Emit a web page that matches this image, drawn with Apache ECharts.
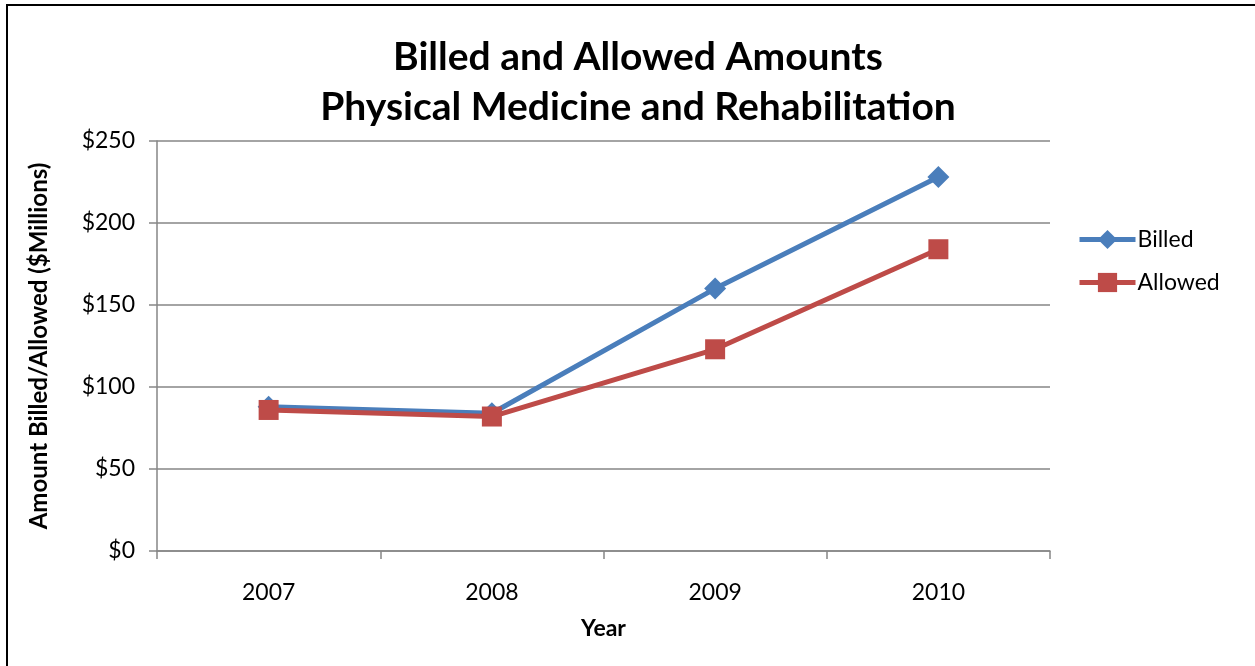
<!DOCTYPE html>
<html><head><meta charset="utf-8">
<script src="https://cdn.jsdelivr.net/npm/echarts@6/dist/echarts.min.js"></script>
<style>html,body{margin:0;padding:0;background:#fff}#c{width:1255px;height:666px}</style>
</head><body><div id="c"></div>
<script>
var categories = ['2007','2008','2009','2010'];
var billed = [88, 84, 160, 228];
var allowed = [86, 82, 123, 184];
var yTicks = [0, 50, 100, 150, 200, 250];
var FONT = 'Lato';
var chart = echarts.init(document.getElementById('c'));
chart.setOption({
  animation: false,
  backgroundColor: '#fff',
  textStyle: {fontFamily: FONT},
  title: {
    text: 'Billed and Allowed Amounts\nPhysical Medicine and Rehabilitation',
    left: 633, top: 27, textAlign: 'center',
    textStyle: {fontFamily: FONT, fontSize: 39, fontWeight: 'bold', color: '#000', lineHeight: 50}
  },
  graphic: [{type: 'rect', shape: {x: 7, y: 5, width: 1260, height: 680}, style: {fill: 'none', stroke: '#000', lineWidth: 2}, silent: true}],
  legend: {
    orient: 'vertical', left: 1072, top: 223, itemGap: 20, itemWidth: 56, itemHeight: 24,
    lineStyle: {width: 5},
    textStyle: {fontFamily: FONT, fontSize: 23, color: '#000', padding: [0,0,0,-3]},
    data: ['Billed', 'Allowed']
  },
  grid: {left: 157, right: 205, top: 141, bottom: 115, containLabel: false},
  xAxis: {
    type: 'category', data: categories, boundaryGap: true,
    name: 'Year', nameLocation: 'middle', nameGap: 66,
    nameTextStyle: {fontFamily: FONT, fontSize: 23, fontWeight: 'bold', color: '#000'},
    axisLine: {lineStyle: {color: '#868686', width: 1.5}},
    axisTick: {show: true, length: 8, lineStyle: {color: '#868686', width: 1.5}},
    axisLabel: {fontFamily: FONT, fontSize: 23, color: '#000', margin: 30}
  },
  yAxis: {
    type: 'value', min: 0, max: 250, interval: 50,
    name: 'Amount Billed/Allowed ($Millions)', nameLocation: 'middle', nameGap: 106, nameRotate: 90,
    nameTextStyle: {fontFamily: FONT, fontSize: 24, fontWeight: 'bold', color: '#000'},
    axisLine: {show: true, lineStyle: {color: '#868686', width: 1.5}},
    axisTick: {show: true, length: 8, lineStyle: {color: '#868686', width: 1.5}},
    axisLabel: {fontFamily: FONT, fontSize: 23, color: '#000', margin: 22,
      formatter: function(v){ return yTicks.indexOf(v) >= 0 ? '$' + v : ''; }},
    splitLine: {lineStyle: {color: '#868686', width: 1.5}}
  },
  series: [
    {name: 'Billed', type: 'line', data: billed, symbol: 'diamond', symbolSize: 22,
     lineStyle: {color: '#4a7ebb', width: 5}, itemStyle: {color: '#4a7ebb'}, z: 2},
    {name: 'Allowed', type: 'line', data: allowed, symbol: 'rect', symbolSize: 20,
     lineStyle: {color: '#be4b48', width: 5}, itemStyle: {color: '#be4b48'}, z: 3}
  ]
});
</script></body></html>
